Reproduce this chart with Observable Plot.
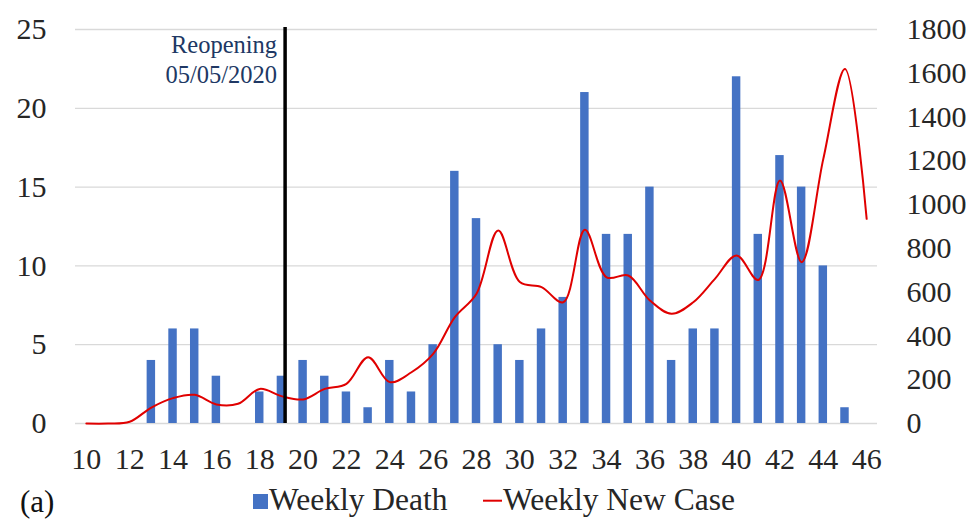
<!DOCTYPE html>
<html>
<head>
<meta charset="utf-8">
<script src="https://cdn.jsdelivr.net/npm/d3@7"></script>
<script src="https://cdn.jsdelivr.net/npm/@observablehq/plot@0.6"></script>
<style>
  html, body { margin: 0; padding: 0; background: #fff; }
  #wrap { position: relative; width: 976px; height: 519px; overflow: hidden; background: #fff; }
  #legend { position: absolute; left: 0; top: 470px; }
</style>
</head>
<body>
<div id="wrap"><div id="chart"></div><svg id="legend" width="976" height="49"></svg></div>
<script>
// ---- data ----
const weeks = [10, 11, 12, 13, 14, 15, 16, 17, 18, 19, 20, 21, 22, 23, 24, 25, 26, 27, 28,
               29, 30, 31, 32, 33, 34, 35, 36, 37, 38, 39, 40, 41, 42, 43, 44, 45, 46];
const weeklyDeath = [0, 0, 0, 4, 6, 6, 3, 0, 2, 3, 4, 3, 2, 1, 4, 2, 5, 16, 13,
                     5, 4, 6, 8, 21, 12, 12, 15, 4, 6, 6, 22, 12, 17, 15, 10, 1, 0];
const weeklyNewCase = [0, 0, 8, 73, 116, 131, 87, 90, 158, 125, 110, 158, 181, 303, 189, 234, 318, 486, 593,
                       882, 646, 623, 554, 885, 668, 676, 562, 501, 554, 661, 768, 656, 1110, 737, 1209, 1620, 935];
const xTicks = [10, 12, 14, 16, 18, 20, 22, 24, 26, 28, 30, 32, 34, 36, 38, 40, 42, 44, 46];
const leftTicks = [0, 5, 10, 15, 20, 25];
const rightTicks = [0, 200, 400, 600, 800, 1000, 1200, 1400, 1600, 1800];
const reopeningWeek = 19.17;
const reopeningLabel = "Reopening\n05/05/2020";
const seriesNames = ["Weekly Death", "Weekly New Case"];
const panelLabel = "(a)";

const leftMax = 25, rightMax = 1800;
const toLeft = v => v * leftMax / rightMax;

const data = weeks.map((w, i) => ({week: w, death: weeklyDeath[i], cases: weeklyNewCase[i]}));

const blue = "#4472C4", red = "#E00000", ink = "#262626";
const serif = "'Liberation Serif', 'Times New Roman', serif";

const chart = Plot.plot({
  width: 976,
  height: 470,
  marginTop: 29,
  marginBottom: 47,
  marginLeft: 75,
  marginRight: 99,
  x: {domain: [9.5, 46.5], label: null},
  y: {domain: [0, leftMax], label: null},
  style: {fontFamily: serif, fontSize: "30px", color: ink, background: "white", overflow: "visible"},
  marks: [
    Plot.ruleY(leftTicks, {stroke: "#d9d9d9", strokeWidth: 1.3}),
    Plot.rectY(data.filter(d => d.death > 0), {x1: d => d.week - 0.195, x2: d => d.week + 0.195, y1: 0, y2: "death", fill: blue}),
    Plot.line(data, {x: "week", y: d => toLeft(d.cases), stroke: red, strokeWidth: 2, curve: "catmull-rom"}),
    Plot.ruleX([reopeningWeek], {stroke: "black", strokeWidth: 3.5, insetTop: -2}),
    Plot.text([reopeningLabel], {x: reopeningWeek, frameAnchor: "top", textAnchor: "end", lineAnchor: "top", dx: -8, dy: 3, lineHeight: 1.2, fontSize: 24.5, fill: "#203864", fontFamily: serif}),
    Plot.axisY(leftTicks, {anchor: "left", label: null, tickSize: 0, tickPadding: 29, fontSize: 30, fill: ink, fontFamily: serif}),
    Plot.axisY(rightTicks.map(toLeft), {anchor: "right", label: null, tickSize: 0, tickPadding: 29, fontSize: 30, fill: ink, fontFamily: serif, tickFormat: v => String(Math.round(v * rightMax / leftMax))}),
    Plot.axisX(xTicks, {anchor: "bottom", label: null, tickSize: 0, tickPadding: 24, fontSize: 30, fill: ink, fontFamily: serif, tickFormat: d => String(d)})
  ]
});
document.getElementById("chart").appendChild(chart);

// ---- legend ----
const lg = d3.select("#legend").style("font-family", serif);
lg.append("text").attr("x", 20).attr("y", 42).attr("font-size", 31).attr("fill", "#111").text(panelLabel);
lg.append("rect").attr("x", 253).attr("y", 24).attr("width", 15).attr("height", 15).attr("fill", blue);
lg.append("text").attr("x", 269).attr("y", 40).attr("font-size", 31.5).attr("fill", ink).text(seriesNames[0]);
lg.append("line").attr("x1", 483).attr("x2", 502).attr("y1", 30.7).attr("y2", 30.7).attr("stroke", red).attr("stroke-width", 2);
lg.append("text").attr("x", 503).attr("y", 40).attr("font-size", 31.5).attr("fill", ink).text(seriesNames[1]);
</script>
</body>
</html>
